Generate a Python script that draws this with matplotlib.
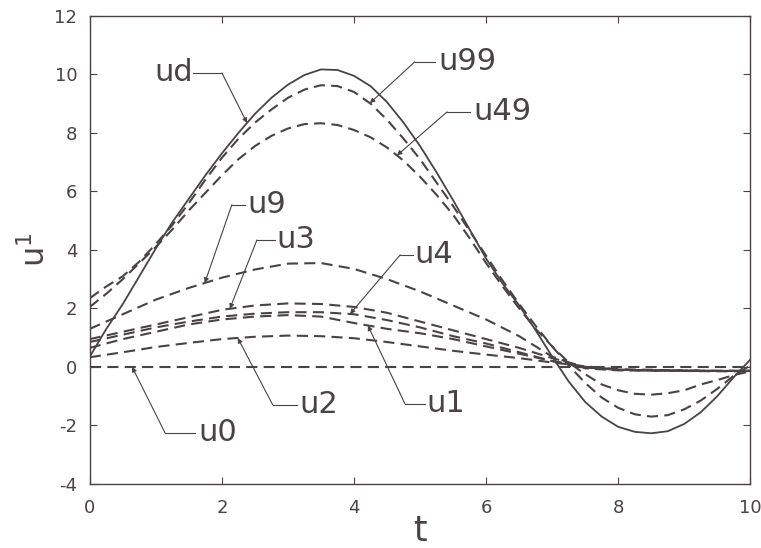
import numpy as np
import matplotlib
matplotlib.use("Agg")
import matplotlib.pyplot as plt

plt.rcParams['font.family'] = ['DejaVu Sans']
plt.rcParams['lines.scale_dashes'] = False
plt.rcParams['axes.unicode_minus'] = False

INK = '#4a4346'

# time grids
t_fine = np.arange(0, 10.01, 0.25)
t_coarse = np.arange(0, 10.01, 0.5)

# desired trajectory (solid)
ud = [0.35, 1.3, 2.15, 3.1, 4.05, 4.95, 5.75, 6.55, 7.3, 8.0, 8.65, 9.2,
      9.65, 9.98, 10.17, 10.15, 9.95, 9.6, 9.05, 8.35, 7.55, 6.65, 5.7, 4.7,
      3.7, 2.85, 2.1, 1.25, 0.35, -0.5, -1.2, -1.7, -2.05, -2.22, -2.27, -2.2,
      -1.95, -1.55, -1.0, -0.35, 0.25]

# iterates on the fine grid
u99 = [2.35, 2.75, 3.1, 3.6, 4.2, 4.85, 5.6, 6.4, 7.15, 7.8, 8.35, 8.8,
       9.2, 9.48, 9.63, 9.6, 9.4, 9.0, 8.45, 7.8, 7.1, 6.3, 5.5, 4.65,
       3.8, 2.95, 2.15, 1.4, 0.7, 0.05, -0.55, -1.05, -1.4, -1.62, -1.7, -1.65,
       -1.45, -1.15, -0.75, -0.3, 0.05]
u49 = [2.05, 2.5, 3.0, 3.55, 4.1, 4.7, 5.35, 5.95, 6.55, 7.1, 7.55, 7.9,
       8.15, 8.3, 8.33, 8.27, 8.1, 7.85, 7.5, 7.05, 6.5, 5.88, 5.2, 4.4,
       3.55, 2.75, 2.0, 1.3, 0.7, 0.15, -0.25, -0.6, -0.8, -0.92, -0.95, -0.9,
       -0.8, -0.6, -0.45, -0.28, -0.15]

# iterates on the coarse grid
u9 = [1.3, 1.8, 2.3, 2.7, 3.05, 3.33, 3.53, 3.55, 3.35, 3.0, 2.58, 2.1,
      1.62, 1.05, 0.35, -0.05, -0.12, -0.13, -0.14, -0.15, -0.15]
u4 = [0.85, 1.1, 1.35, 1.55, 1.72, 1.82, 1.87, 1.87, 1.8, 1.6, 1.35, 1.05,
      0.8, 0.5, 0.2, -0.02, -0.1, -0.12, -0.13, -0.14, -0.14]
u3 = [0.95, 1.2, 1.45, 1.7, 1.95, 2.1, 2.17, 2.15, 2.05, 1.85, 1.55, 1.25,
      0.95, 0.65, 0.3, 0.0, -0.1, -0.12, -0.13, -0.14, -0.14]
u2 = [0.33, 0.5, 0.68, 0.82, 0.95, 1.03, 1.07, 1.05, 0.98, 0.85, 0.7, 0.55,
      0.42, 0.3, 0.15, 0.02, -0.08, -0.1, -0.12, -0.13, -0.13]
u1 = [0.65, 0.95, 1.2, 1.45, 1.62, 1.72, 1.77, 1.72, 1.5, 1.3, 1.15, 0.95,
      0.7, 0.45, 0.2, 0.0, -0.1, -0.12, -0.13, -0.14, -0.14]
u0 = [0.0] * len(t_coarse)

x_ticks = [0, 2, 4, 6, 8, 10]
y_ticks = [-4, -2, 0, 2, 4, 6, 8, 10, 12]

fig = plt.figure(figsize=(7.61, 5.48), dpi=100)
ax = fig.add_axes([0.118, 0.117, 0.868, 0.854])

dash = dict(color=INK, lw=1.5, ls=(0, (8, 4.5)))
for series in (u0, u1, u2, u3, u4, u9):
    ax.plot(t_coarse, series, **dash)
for series in (u49, u99):
    ax.plot(t_fine, series, **dash)
ax.plot(t_fine, ud, color=INK, lw=1.3)

ax.set_xlim(0, 10)
ax.set_ylim(-4, 12)
ax.set_xticks(x_ticks)
ax.set_yticks(y_ticks)
ax.tick_params(direction='in', top=True, right=True, length=5, width=0.8,
               colors=INK, labelsize=13)
ax.tick_params(axis='x', pad=11)
ax.tick_params(axis='y', pad=9)
for s in ax.spines.values():
    s.set_color(INK)
    s.set_linewidth(1.0)

ax.set_xlabel('t', fontsize=25, color=INK, labelpad=-2)
ax.set_ylabel(r'u$^{\mathregular{1}}$', fontsize=23, color=INK, labelpad=2)

# curve labels with leader lines:
# (text, series, grid, text x, text y, text alignment, leader start x, elbow x, tip t)
labels = [
    ('ud', ud, t_fine, 1.56, 10.05, 'right', 1.56, 2.0, 2.38),
    ('u99', u99, t_fine, 5.27, 10.43, 'left', 5.22, 4.92, 4.24),
    ('u49', u49, t_fine, 5.8, 8.72, 'left', 5.75, 5.41, 4.65),
    ('u9', u9, t_coarse, 2.38, 5.54, 'left', 2.35, 2.15, 1.74),
    ('u3', u3, t_coarse, 2.83, 4.34, 'left', 2.80, 2.53, 2.12),
    ('u4', u4, t_coarse, 4.92, 3.83, 'left', 4.89, 4.70, 3.94),
    ('u1', u1, t_coarse, 5.10, -1.26, 'left', 5.07, 4.77, 4.21),
    ('u2', u2, t_coarse, 3.18, -1.30, 'left', 3.14, 2.77, 2.24),
    ('u0', u0, t_coarse, 1.64, -2.26, 'left', 1.60, 1.14, 0.64),
]
for name, series, grid, tx, ty, ha, sx, ex, tip_t in labels:
    ax.text(tx, ty, name, fontsize=22, color=INK, ha=ha, va='center')
    tip_y = float(np.interp(tip_t, grid, series))
    ax.plot([sx, ex], [ty, ty], color=INK, lw=0.8)
    ax.annotate('', xy=(tip_t, tip_y), xytext=(ex, ty),
                arrowprops=dict(arrowstyle='-|>', color=INK, lw=0.8,
                                mutation_scale=7, shrinkA=0, shrinkB=0))

fig.savefig('out.png', dpi=100, facecolor='white')
